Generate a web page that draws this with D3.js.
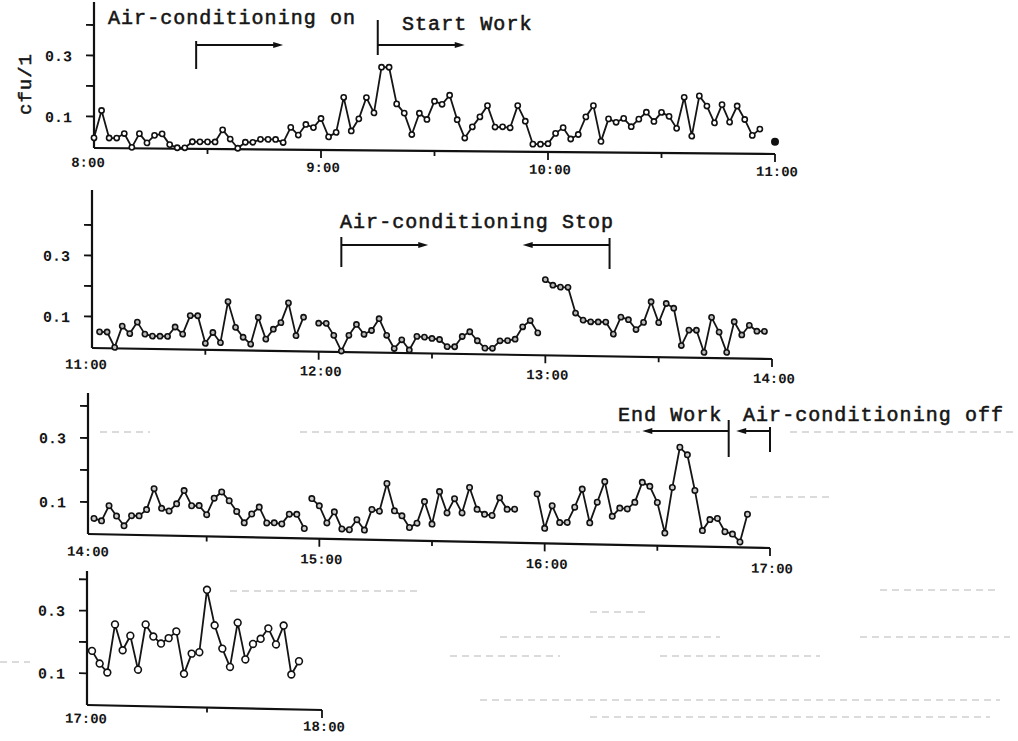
<!DOCTYPE html>
<html>
<head>
<meta charset="utf-8">
<script src="https://cdn.jsdelivr.net/npm/d3@7"></script>
<style>
body { margin: 0; background: #fff; }
svg { display: block; }
text { font-family: "Liberation Mono", "DejaVu Sans Mono", monospace; fill: #151515; }
</style>
</head>
<body>
<script>
// airborne bacteria, cfu/l, one sample every 2 minutes (null = no sample)
var p1Values = [0.03, 0.12, 0.03, 0.03, 0.045, 0.0, 0.045, 0.015, 0.04, 0.045,
  0.01, 0.0, 0.0, 0.02, 0.02, 0.02, 0.02, 0.06, 0.03, 0.0,
  0.02, 0.02, 0.03, 0.03, 0.03, 0.02, 0.07, 0.045, 0.08, 0.07,
  0.1, 0.04, 0.055, 0.17, 0.06, 0.1, 0.17, 0.12, 0.27, 0.27,
  0.15, 0.12, 0.05, 0.12, 0.1, 0.16, 0.15, 0.18, 0.1, 0.04,
  0.077, 0.11, 0.147, 0.077, 0.078, 0.075, 0.148, 0.097, 0.022, 0.022,
  0.024, 0.058, 0.077, 0.04, 0.055, 0.113, 0.15, 0.033, 0.107, 0.096,
  0.109, 0.082, 0.107, 0.13, 0.1, 0.13, 0.117, 0.078, 0.18, 0.053,
  0.185, 0.152, 0.097, 0.157, 0.1, 0.153, 0.109, 0.057, 0.078, null,
  0.037];
var p2Values = [null, 0.05, 0.05, 0.0, 0.07, 0.046, 0.084, 0.045, 0.039, 0.039,
  0.039, 0.07, 0.047, 0.108, 0.108, 0.018, 0.054, 0.021, 0.156, 0.072,
  0.04, 0.018, 0.106, 0.035, 0.068, 0.09, 0.155, 0.048, 0.109, null,
  0.09, 0.09, 0.051, 0.0, 0.052, 0.088, 0.056, 0.069, 0.108, 0.054,
  0.011, 0.04, 0.007, 0.052, 0.05, 0.046, 0.043, 0.02, 0.02, 0.054,
  0.07, 0.041, 0.017, 0.017, 0.042, 0.043, 0.048, 0.089, 0.11, 0.07,
  0.245, 0.227, 0.221, 0.221, 0.137, 0.114, 0.109, 0.109, 0.109, 0.07,
  0.126, 0.118, 0.086, 0.11, 0.178, 0.11, 0.173, 0.158, 0.036, 0.087,
  0.087, 0.015, 0.13, 0.082, 0.016, 0.117, 0.074, 0.106, 0.087, 0.087];
var p3Values = [0.049, 0.042, 0.09, 0.058, 0.028, 0.06, 0.06, 0.08, 0.146, 0.085,
  0.077, 0.1, 0.142, 0.095, 0.096, 0.068, 0.12, 0.14, 0.113, 0.08,
  0.045, 0.073, 0.095, 0.046, 0.047, 0.044, 0.075, 0.075, 0.031, 0.125,
  0.103, 0.05, 0.085, 0.032, 0.03, 0.062, 0.03, 0.095, 0.09, 0.177,
  0.092, 0.077, 0.041, 0.055, 0.123, 0.053, 0.155, 0.089, 0.134, 0.09,
  0.17, 0.102, 0.087, 0.084, 0.14, 0.104, 0.105, null, null, 0.154,
  0.047, 0.118, 0.066, 0.067, 0.115, 0.172, 0.067, 0.132, 0.197, 0.089,
  0.115, 0.113, 0.134, 0.197, 0.185, 0.135, 0.04, 0.183, 0.309, 0.286,
  0.175, 0.05, 0.085, 0.089, 0.048, 0.041, 0.017, 0.104];
var p4Values = [0.172, 0.132, 0.104, 0.258, 0.176, 0.223, 0.115, 0.26, 0.222, 0.2,
  0.218, 0.24, 0.105, 0.17, 0.175, 0.375, 0.262, 0.188, 0.13, 0.272,
  0.155, 0.205, 0.222, 0.256, 0.205, 0.266, 0.11, 0.153];

// line is broken before these sample indices
var p1Breaks = [], p2Breaks = [60], p3Breaks = [29], p4Breaks = [];

var startTimes = ["8:00", "11:00", "14:00", "17:00"];
var endTimes = ["11:00", "14:00", "17:00", "18:00"];
var hourLabels = [["8:00", "9:00", "10:00", "11:00"], ["11:00", "12:00", "13:00", "14:00"],
  ["14:00", "15:00", "16:00", "17:00"], ["17:00", "18:00"]];
var yTicks = [0.1, 0.2, 0.3, 0.4];
var yTickLabels = [0.1, 0.3];
var stepMinutes = 2;

var notes = ["Air-conditioning on", "Start Work", "Air-conditioning Stop", "End Work", "Air-conditioning off"];
// bar at "from", arrow pointing to "to"
var arrowFrom = ["8:27", "9:15", "12:06", "13:17", "16:49", "17:00"];
var arrowTo = ["8:50", "9:38", "12:29", "12:54", "16:26", "16:51"];
var arrowPanel = [0, 0, 1, 1, 2, 2];

var parseTime = d3.timeParse("%H:%M");

var svg = d3.select("body").append("svg").attr("width", 1018).attr("height", 741);

// faint show-through from the back of the scanned page
var ghost = [[432, 100, 150], [432, 300, 640], [432, 790, 1018], [497, 750, 832],
  [591, 230, 420], [590, 880, 1000], [612, 590, 650], [637, 500, 720], [637, 860, 1010],
  [656, 450, 560], [656, 660, 820], [700, 480, 1000], [717, 590, 990], [662, 0, 30]];
svg.append("g").selectAll("line").data(ghost).enter().append("line")
  .attr("x1", function(d) { return d[1]; }).attr("x2", function(d) { return d[2]; })
  .attr("y1", function(d) { return d[0]; }).attr("y2", function(d) { return d[0]; })
  .attr("stroke", "#cfcfcf").attr("stroke-width", 1.4).attr("stroke-dasharray", "7,5");

var panels = [
  {values: p1Values, breaks: p1Breaks, axisX: 94, x0: 94, x1: 775, y0: 147, y4: 25, base: 148, top: 2, tilt: 6 / 681, r: 2.6, fill: "#fff", dy: 22},
  {values: p2Values, breaks: p2Breaks, axisX: 92, x0: 92, x1: 772, y0: 347, y4: 225, base: 348, top: 190, tilt: 11 / 680, r: 2.6, fill: "#bbb", dy: 24},
  {values: p3Values, breaks: p3Breaks, axisX: 88, x0: 94, x1: 770, y0: 534, y4: 406, base: 534, top: 393, tilt: 14 / 682, r: 2.7, fill: "#ccc", dy: 25},
  {values: p4Values, breaks: p4Breaks, axisX: 87, x0: 92, x1: 322, y0: 704.6, y4: 579.4, base: 705, top: 571, tilt: 5 / 235, r: 3.4, fill: "#fff", dy: 21}
];

panels.forEach(function(p, k) {
  var t0 = parseTime(startTimes[k]), t1 = parseTime(endTimes[k]);
  p.x = d3.scaleTime().domain([t0, t1]).range([p.x0, p.x1]);
  p.y = d3.scaleLinear().domain([0, 0.4]).range([p.y0, p.y4]);

  var deg = Math.atan(p.tilt) * 180 / Math.PI;
  var g = svg.append("g")
    .attr("transform", "translate(" + p.axisX + "," + p.base + ") skewY(" + deg + ") translate(" + (-p.axisX) + "," + (-p.base) + ")");

  // axes
  g.append("line").attr("x1", p.axisX).attr("x2", p.axisX).attr("y1", p.base).attr("y2", p.top)
    .attr("stroke", "#111").attr("stroke-width", 2.2);
  g.append("line").attr("x1", p.axisX).attr("x2", p.x1).attr("y1", p.base).attr("y2", p.base)
    .attr("stroke", "#111").attr("stroke-width", 2.2);

  g.selectAll(".ytick").data(yTicks).enter().append("line")
    .attr("x1", p.axisX - 8).attr("x2", p.axisX)
    .attr("y1", function(d) { return p.y(d); }).attr("y2", function(d) { return p.y(d); })
    .attr("stroke", "#111").attr("stroke-width", 1.8);

  var xt = d3.timeMinute.every(30).range(t0, d3.timeMinute.offset(t1, 1)).filter(function(t) { return t > t0; });
  g.selectAll(".xtick").data(xt).enter().append("line")
    .attr("x1", function(d) { return p.x(d); }).attr("x2", function(d) { return p.x(d); })
    .attr("y1", p.base)
    .attr("y2", function(d) { return p.base + (d.getMinutes() === 0 ? 8 : 5); })
    .attr("stroke", "#111").attr("stroke-width", 1.8);

  g.selectAll(".hlab").data(hourLabels[k]).enter().append("text")
    .attr("x", function(d) { return p.x(parseTime(d)) + (d === startTimes[k] ? -6 : 2); })
    .attr("y", function(d) { return p.base + p.dy - (d === startTimes[k] ? 3 : 0); })
    .attr("text-anchor", "middle")
    .style("font-size", "14px").style("font-weight", "bold")
    .text(function(d) { return d; });

  g.selectAll(".ylab").data(yTickLabels).enter().append("text")
    .attr("x", p.axisX - 22).attr("y", function(d) { return p.y(d) + 2; })
    .attr("text-anchor", "end").attr("dominant-baseline", "middle")
    .style("font-size", "15px").style("font-weight", "bold")
    .text(function(d) { return d.toFixed(1); });

  // points and broken line segments
  var pts = p.values.map(function(v, i) { return {t: d3.timeMinute.offset(t0, i * stepMinutes), v: v, i: i}; });
  var segs = [], cur = [];
  pts.forEach(function(d) {
    if (d.v === null || p.breaks.indexOf(d.i) >= 0) { if (cur.length) segs.push(cur); cur = []; }
    if (d.v !== null) cur.push(d);
  });
  if (cur.length) segs.push(cur);

  var line = d3.line().x(function(d) { return p.x(d.t); }).y(function(d) { return p.y(d.v); });
  g.selectAll(".seg").data(segs.filter(function(s) { return s.length > 1; })).enter().append("path")
    .attr("d", line).attr("fill", "none").attr("stroke", "#151515").attr("stroke-width", 1.8)
    .attr("stroke-linejoin", "round");

  segs.forEach(function(s) {
    g.selectAll(null).data(s).enter().append("circle")
      .attr("cx", function(d) { return p.x(d.t); }).attr("cy", function(d) { return p.y(d.v); })
      .attr("r", s.length > 1 ? p.r : 3.2)
      .attr("fill", s.length > 1 ? p.fill : "#111")
      .attr("stroke", "#111").attr("stroke-width", 1.6);
  });
});

// y label
svg.append("text").attr("transform", "translate(31,84) rotate(-90)")
  .attr("text-anchor", "middle").style("font-size", "19px").style("letter-spacing", "1px")
  .attr("stroke", "#151515").attr("stroke-width", 0.5)
  .text("cfu/1");

// annotation texts
var notePos = [[108, 24], [402, 30], [340, 228], [618, 421], [743, 421]];
svg.selectAll(".note").data(notes).enter().append("text")
  .attr("x", function(d, i) { return notePos[i][0]; })
  .attr("y", function(d, i) { return notePos[i][1]; })
  .style("font-size", "20px").style("letter-spacing", "1.05px")
  .attr("stroke", "#151515").attr("stroke-width", 0.55)
  .text(function(d) { return d; });

// annotation arrows: [arrow y, bar top, bar bottom]
var arrowY = [[45, 41, 69], [45, 20, 55], [245, 237, 267], [245, 238, 269], [431, 420, 457], [431, 427, 452]];
arrowFrom.forEach(function(f, i) {
  var p = panels[arrowPanel[i]];
  var xa = p.x(parseTime(f)), xb = p.x(parseTime(arrowTo[i]));
  var ay = arrowY[i];
  var dir = xb > xa ? 1 : -1;
  svg.append("line").attr("x1", xa).attr("x2", xa).attr("y1", ay[1]).attr("y2", ay[2])
    .attr("stroke", "#111").attr("stroke-width", 2);
  svg.append("line").attr("x1", xa).attr("x2", xb - dir * 6).attr("y1", ay[0]).attr("y2", ay[0])
    .attr("stroke", "#111").attr("stroke-width", 2);
  svg.append("path")
    .attr("d", "M" + xb + "," + ay[0] + "L" + (xb - dir * 10) + "," + (ay[0] - 3) + "L" + (xb - dir * 10) + "," + (ay[0] + 3) + "Z")
    .attr("fill", "#111");
});
</script>
</body>
</html>
